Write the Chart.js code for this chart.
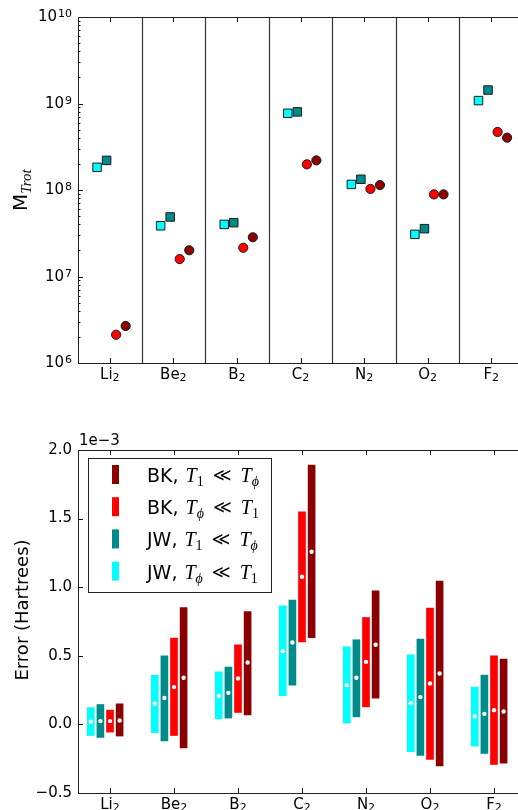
<!DOCTYPE html>
<html>
<head>
<meta charset="utf-8">
<script src="https://cdn.jsdelivr.net/npm/chart.js@4.4.1/dist/chart.umd.min.js"></script>
<style>
  html, body { margin: 0; padding: 0; background: #fff; overflow: hidden; }
  #wrap { position: relative; width: 518px; height: 810px; overflow: hidden; }
  canvas { position: absolute; left: 0; }
  #mChart { top: 0; }
  #errChart { top: 400px; }
</style>
</head>
<body>
<div id="wrap">
  <canvas id="mChart" width="530" height="400"></canvas>
  <canvas id="errChart" width="530" height="410"></canvas>
</div>
<script>
const molecules = ['Li2', 'Be2', 'B2', 'C2', 'N2', 'O2', 'F2'];

// M_Trot for each mapping / regime
const mJWphi = [1.83e8, 3.86e7, 4.0e7, 7.7e8, 1.16e8, 3.07e7, 1.08e9];
const mJW1   = [2.2e8, 4.88e7, 4.19e7, 8.0e8, 1.33e8, 3.57e7, 1.43e9];
const mBKphi = [2.12e6, 1.59e7, 2.15e7, 1.98e8, 1.03e8, 8.9e7, 4.69e8];
const mBK1   = [2.68e6, 2.01e7, 2.84e7, 2.2e8, 1.14e8, 8.9e7, 4.03e8];

// error spread in units of 1e-3 Hartree: low end, high end, mean
const loJWphi  = [-0.081, -0.061, 0.041, 0.209, 0.009, -0.198, -0.158];
const hiJWphi  = [0.123, 0.359, 0.383, 0.864, 0.566, 0.507, 0.272];
const midJWphi = [0.019, 0.150, 0.208, 0.534, 0.286, 0.155, 0.058];

const loJW1  = [-0.095, -0.120, 0.046, 0.286, 0.055, -0.227, -0.212];
const hiJW1  = [0.145, 0.500, 0.418, 0.906, 0.617, 0.622, 0.359];
const midJW1 = [0.024, 0.192, 0.230, 0.597, 0.340, 0.199, 0.077];

const loBKphi  = [-0.056, -0.081, 0.087, 0.602, 0.128, -0.256, -0.292];
const hiBKphi  = [0.104, 0.629, 0.580, 1.550, 0.779, 0.848, 0.500];
const midBKphi = [0.024, 0.272, 0.335, 1.076, 0.456, 0.298, 0.104];

const loBK1  = [-0.085, -0.171, 0.070, 0.633, 0.192, -0.302, -0.282];
const hiBK1  = [0.150, 0.852, 0.823, 1.890, 0.974, 1.044, 0.476];
const midBK1 = [0.028, 0.340, 0.451, 1.258, 0.580, 0.371, 0.094];

const series = [
  { method: 'JW', a: 'ϕ', b: '1', color: '#00ffff', shape: 'rect',   m: mJWphi, lo: loJWphi, hi: hiJWphi, mid: midJWphi },
  { method: 'JW', a: '1', b: 'ϕ', color: '#008b8b', shape: 'rect',   m: mJW1,   lo: loJW1,   hi: hiJW1,   mid: midJW1 },
  { method: 'BK', a: 'ϕ', b: '1', color: '#ff0000', shape: 'circle', m: mBKphi, lo: loBKphi, hi: hiBKphi, mid: midBKphi },
  { method: 'BK', a: '1', b: 'ϕ', color: '#8b0000', shape: 'circle', m: mBK1,   lo: loBK1,   hi: hiBK1,   mid: midBK1 }
];

const markerShift = [-0.2, -0.05, 0.1, 0.25];
const barShift = [-0.3, -0.15, 0, 0.15];

const SANS = '"DejaVu Sans", sans-serif';
const MATH = '"Liberation Serif", serif';

// x label like "Li2" -> "Li" with a lowered small "2"
function drawMolecule(ctx, name, cx, baseline) {
  const atom = name.replace(/\d+$/, '');
  const sub = name.slice(atom.length);
  ctx.font = '15px ' + SANS;
  const w1 = ctx.measureText(atom).width;
  ctx.font = '11px ' + SANS;
  const w2 = ctx.measureText(sub).width;
  const x0 = cx - (w1 + w2) / 2;
  ctx.textAlign = 'left';
  ctx.textBaseline = 'alphabetic';
  ctx.font = '15px ' + SANS;
  ctx.fillText(atom, x0, baseline);
  ctx.font = '11px ' + SANS;
  ctx.fillText(sub, x0 + w1, baseline + 2);
}

// "BK, T_a << T_b"
function drawRegime(ctx, s, x, baseline) {
  ctx.textAlign = 'left';
  ctx.textBaseline = 'alphabetic';
  ctx.font = '19px ' + SANS;
  const head = s.method + ', ';
  ctx.fillText(head, x, baseline);
  x += ctx.measureText(head).width + 1;
  const term = (sym) => {
    ctx.font = 'italic 20px ' + MATH;
    ctx.fillText('T', x, baseline);
    x += ctx.measureText('T').width;
    ctx.font = (sym === '1' ? '' : 'italic ') + '14px ' + MATH;
    ctx.fillText(sym, x, baseline + 4);
    x += ctx.measureText(sym).width;
  };
  term(s.a);
  x += 9;
  ctx.font = '18px ' + SANS;
  ctx.fillText('≪', x, baseline - 1);
  x += ctx.measureText('≪').width + 9;
  term(s.b);
}

function framePlugin(cfg) {
  return {
    id: 'frame',
    beforeDatasetsDraw(chart) {
      if (!cfg.separators) return;
      const {ctx, chartArea: a, scales: {x}} = chart;
      ctx.save();
      ctx.strokeStyle = '#333';
      ctx.lineWidth = 1.2;
      for (let i = 0; i < molecules.length - 1; i++) {
        const px = Math.round(x.getPixelForValue(i + 0.5)) + 0.5;
        ctx.beginPath();
        ctx.moveTo(px, a.top);
        ctx.lineTo(px, a.bottom);
        ctx.stroke();
      }
      ctx.restore();
    },
    afterDraw(chart) {
      const {ctx, chartArea: a, scales: {x, y}} = chart;
      ctx.save();
      ctx.strokeStyle = '#111';
      ctx.lineWidth = 1;
      // inward ticks on all four sides
      ctx.beginPath();
      x.ticks.forEach(t => {
        const px = Math.round(x.getPixelForValue(t.value)) + 0.5;
        ctx.moveTo(px, a.bottom); ctx.lineTo(px, a.bottom - 5);
        ctx.moveTo(px, a.top); ctx.lineTo(px, a.top + 5);
      });
      y.ticks.forEach(t => {
        const py = Math.round(y.getPixelForValue(t.value)) + 0.5;
        const len = (cfg.logY && !t.major) ? 2.5 : 5;
        ctx.moveTo(a.left, py); ctx.lineTo(a.left + len, py);
        ctx.moveTo(a.right, py); ctx.lineTo(a.right - len, py);
      });
      ctx.stroke();
      ctx.strokeStyle = '#222';
      ctx.strokeRect(Math.round(a.left) + 0.5, Math.round(a.top) + 0.5,
        Math.round(a.right - a.left), Math.round(a.bottom - a.top));

      ctx.fillStyle = '#000';
      x.ticks.forEach(t => {
        drawMolecule(ctx, molecules[t.value], x.getPixelForValue(t.value), a.bottom + 16);
      });

      if (cfg.logY) {
        y.ticks.filter(t => t.major).forEach(t => {
          const py = y.getPixelForValue(t.value);
          const exp = String(Math.round(Math.log10(t.value)));
          ctx.textAlign = 'right';
          ctx.textBaseline = 'alphabetic';
          ctx.font = '11px ' + SANS;
          ctx.fillText(exp, a.left - 6, py);
          const ew = ctx.measureText(exp).width;
          ctx.font = '15px ' + SANS;
          ctx.textBaseline = 'middle';
          ctx.fillText('10', a.left - 7 - ew, py + 0.5);
        });
      }

      if (cfg.title) cfg.title(ctx, a);
      if (cfg.offsetText) {
        ctx.textAlign = 'left';
        ctx.textBaseline = 'alphabetic';
        ctx.font = '15px ' + SANS;
        ctx.fillText(cfg.offsetText, a.left + 1, a.top - 5);
      }
      if (cfg.legend) cfg.legend(ctx, a);
      ctx.restore();
    }
  };
}

function moleculeTicks(scale) {
  scale.ticks = molecules.map((_, i) => ({ value: i }));
}

// top panel: M_Trot on a log axis
new Chart(document.getElementById('mChart'), {
  type: 'scatter',
  data: {
    datasets: series.map((s, k) => ({
      data: s.m.map((v, i) => ({ x: i + markerShift[k], y: v })),
      pointStyle: s.shape,
      pointRadius: s.shape === 'rect' ? 6 : 4.6,
      backgroundColor: s.color,
      borderColor: '#1a1a1a',
      borderWidth: 1
    }))
  },
  options: {
    responsive: false,
    animation: false,
    layout: { padding: { top: 17, right: 4, left: 0, bottom: 0 } },
    plugins: { legend: { display: false }, tooltip: { enabled: false } },
    scales: {
      x: {
        type: 'linear', min: -0.5, max: 6.5,
        grid: { display: false }, border: { display: false }, ticks: { display: false },
        afterBuildTicks: moleculeTicks,
        afterFit: s => { s.height = 37; }
      },
      y: {
        type: 'logarithmic', min: 1e6, max: 1e10,
        grid: { display: false }, border: { display: false }, ticks: { display: false },
        afterBuildTicks: s => {
          const ticks = [];
          for (let e = 6; e < 10; e++) {
            for (let k = 1; k < 10; k++) ticks.push({ value: k * Math.pow(10, e), major: k === 1 });
          }
          ticks.push({ value: 1e10, major: true });
          s.ticks = ticks;
        },
        afterFit: s => { s.width = 78; }
      }
    }
  },
  plugins: [framePlugin({
    separators: true,
    logY: true,
    title: (ctx, a) => {
      ctx.save();
      ctx.translate(27, (a.top + a.bottom) / 2 + 21);
      ctx.rotate(-Math.PI / 2);
      ctx.textAlign = 'left';
      ctx.textBaseline = 'alphabetic';
      ctx.font = '20px ' + SANS;
      ctx.fillText('M', 0, 0);
      const w = ctx.measureText('M').width;
      ctx.font = 'italic 15px ' + MATH;
      ctx.fillText('Trot', w, 4);
      ctx.restore();
    }
  })]
});

// bottom panel: error spread per regime
const errSets = series.map((s, k) => ({
  type: 'bar',
  data: s.lo.map((lo, i) => ({ x: i + barShift[k], y: [lo, s.hi[i]] })),
  backgroundColor: s.color,
  borderWidth: 0,
  barThickness: 7,
  grouped: false,
  order: 1
}));
const meanSets = series.map((s, k) => ({
  type: 'scatter',
  data: s.mid.map((v, i) => ({ x: i + barShift[k], y: v })),
  pointRadius: 2.2,
  backgroundColor: '#ffffff',
  borderWidth: 0,
  order: 0
}));

new Chart(document.getElementById('errChart'), {
  type: 'bar',
  data: { datasets: errSets.concat(meanSets) },
  options: {
    responsive: false,
    animation: false,
    layout: { padding: { top: 50, right: 4, left: 0, bottom: 0 } },
    plugins: { legend: { display: false }, tooltip: { enabled: false } },
    scales: {
      x: {
        type: 'linear', min: -0.5, max: 6.5, offset: false,
        grid: { display: false, offset: false }, border: { display: false }, ticks: { display: false },
        afterBuildTicks: moleculeTicks,
        afterFit: s => { s.height = 17; }
      },
      y: {
        type: 'linear', min: -0.5, max: 2.0, beginAtZero: false,
        grid: { display: false, drawTicks: false }, border: { display: false },
        ticks: {
          stepSize: 0.5, padding: 6, color: '#000',
          font: { family: 'DejaVu Sans', size: 15 },
          callback: v => (v < 0 ? '\u2212' : '') + Math.abs(v).toFixed(1)
        },
        afterFit: s => { s.width = 78; }
      }
    }
  },
  plugins: [framePlugin({
    offsetText: '1e\u22123',
    title: (ctx, a) => {
      ctx.save();
      ctx.translate(28, 210);
      ctx.rotate(-Math.PI / 2);
      ctx.textAlign = 'center';
      ctx.textBaseline = 'alphabetic';
      ctx.font = '18px ' + SANS;
      ctx.fillText('Error (Hartrees)', 0, 0);
      ctx.restore();
    },
    legend: (ctx, a) => {
      const bx = 88, by = 58, bw = 183, bh = 134;
      ctx.fillStyle = '#fff';
      ctx.fillRect(bx, by, bw, bh);
      ctx.strokeStyle = '#222';
      ctx.lineWidth = 1;
      ctx.strokeRect(bx + 0.5, by + 0.5, bw, bh);
      series.slice().reverse().forEach((s, r) => {
        const cy = by + 16.5 + r * 32.2;
        ctx.fillStyle = s.color;
        ctx.fillRect(bx + 24, cy - 9.5, 7, 19);
        ctx.fillStyle = '#000';
        drawRegime(ctx, s, bx + 59, cy + 7.5);
      });
    }
  })]
});
</script>
</body>
</html>
